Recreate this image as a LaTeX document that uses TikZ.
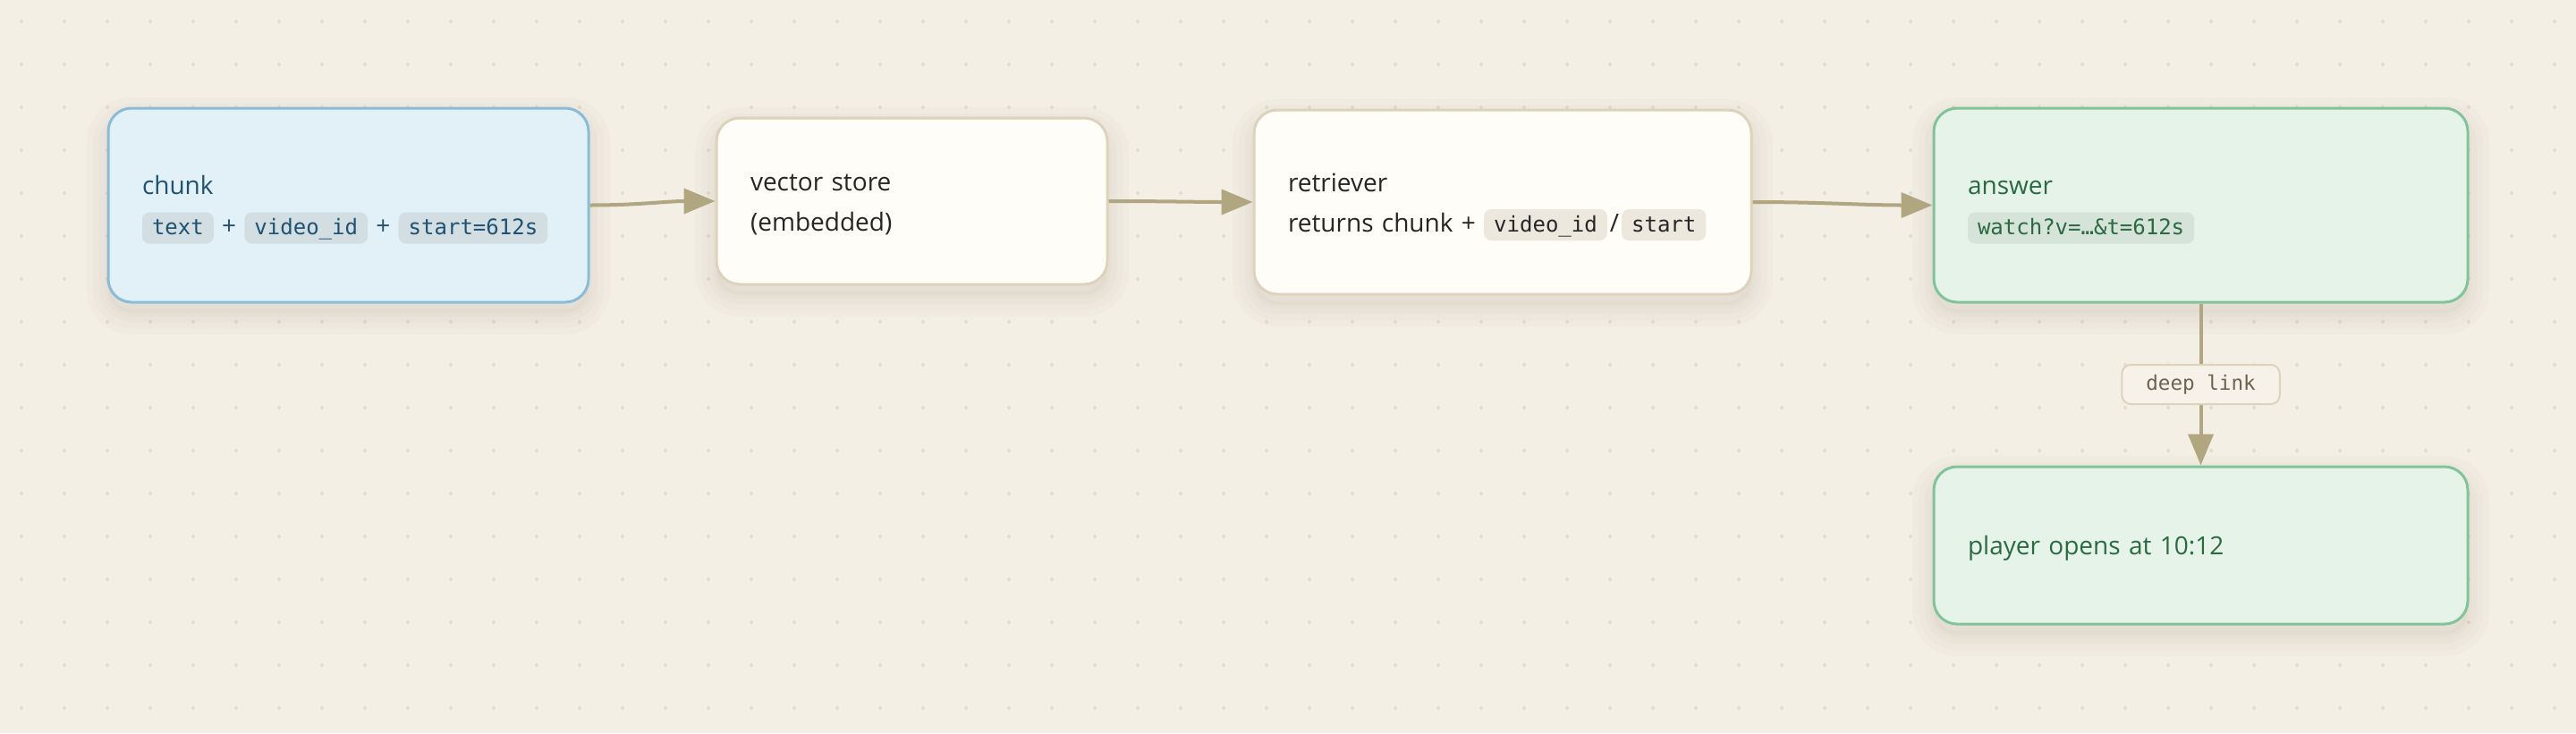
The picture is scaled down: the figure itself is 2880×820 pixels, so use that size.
\documentclass[tikz,border=0pt]{standalone}
\usepackage{fontspec}
\setmainfont{Open Sans}
\newfontfamily\codefont{DejaVu Sans Mono}
\usetikzlibrary{arrows.meta}

\definecolor{bgpaper}{HTML}{F3EFE5}
\definecolor{bgdot}{HTML}{E2DDD1}
\definecolor{shade}{HTML}{5A4A2A}
\definecolor{chunkfill}{HTML}{E2F0F7}
\definecolor{chunkline}{HTML}{8ABCD8}
\definecolor{chunktext}{HTML}{1F5272}
\definecolor{chunkchip}{HTML}{D2DEE2}
\definecolor{plainfill}{HTML}{FFFDF7}
\definecolor{plainline}{HTML}{DDD3BD}
\definecolor{plaintext}{HTML}{262626}
\definecolor{plainchip}{HTML}{ECE8DD}
\definecolor{ansfill}{HTML}{E6F3E9}
\definecolor{ansline}{HTML}{82C49A}
\definecolor{anstext}{HTML}{2B6A41}
\definecolor{anschip}{HTML}{D5E3D8}
\definecolor{flowline}{HTML}{B0A680}
\definecolor{lbltext}{HTML}{6B6350}
\definecolor{lblfill}{HTML}{F6F2E9}

\newcommand{\boxstrut}{\vrule height 16.5pt depth 6pt width 0pt}
\newcommand{\code}[2][plainchip]{\tikz[baseline=(c.base)]\node[chip,fill=#1](c){#2};}

\tikzset{
  halo/.style={preaction={draw=shade, fill=none, draw opacity=0.018, line width=#1,
    transform canvas={yshift=-6pt}}},
  softshadow/.style={preaction={fill=shade, fill opacity=0.03, draw=none,
    transform canvas={yshift=-6pt}}, halo=24pt, halo=17pt, halo=10pt, halo=4pt},
  chip/.style={rounded corners=4pt, inner xsep=5.5pt, inner ysep=0pt,
    minimum height=0pt, minimum width=0pt, line width=0pt,
    text height=12.5pt, text depth=5pt, font=\codefont\fontsize{12}{14}\selectfont},
  box/.style={draw, line width=1.5pt, rounded corners=13pt, align=left, inner xsep=19pt,
    font=\fontsize{14}{22.5}\selectfont, softshadow},
  chunkbox/.style={box, fill=chunkfill, draw=chunkline, text=chunktext},
  plainbox/.style={box, fill=plainfill, draw=plainline, text=plaintext},
  ansbox/.style={box, fill=ansfill, draw=ansline, text=anstext},
  flow/.style={draw=flowline, line width=2pt, -{Triangle[length=17.5pt,width=14pt]}},
  linklbl/.style={draw=plainline, fill=lblfill, line width=1pt, rounded corners=5pt,
    inner xsep=13.5pt, minimum height=22pt, text=lbltext,
    font=\codefont\fontsize{11.3}{14}\selectfont}
}

\begin{document}
\begin{tikzpicture}[x=0.5pt, y=-0.5pt]
  \useasboundingbox (0,0) rectangle (2880,820);
  \fill[bgpaper] (0,0) rectangle (2880,820);
  \foreach \i in {0,...,59}
    \foreach \j in {0,...,16}
      \fill[bgdot] (24+48*\i, 24+48*\j) circle (1pt);

  % pipeline
  \node[chunkbox, text width=230.5pt, minimum height=108.5pt] (chunk) at (389.5,229.5)
    {\boxstrut chunk\\\boxstrut\code[chunkchip]{text} + \code[chunkchip]{video\_id} + \code[chunkchip]{start=612s}};
  \node[plainbox, text width=180.5pt, minimum height=93pt] (store) at (1019.5,225)
    {\boxstrut vector store\\\boxstrut(embedded)};
  \node[plainbox, text width=240pt, minimum height=103pt] (retriever) at (1680,226)
    {\boxstrut retriever\\\boxstrut returns chunk + \code{video\_id}\kern1.5pt/\kern1.5pt\code{start}};
  \node[ansbox, text width=260.5pt, minimum height=108.5pt] (answer) at (2460.5,229.5)
    {\boxstrut answer\\\boxstrut\code[anschip]{watch?v=…\&t=612s}};
  \node[ansbox, text width=260.5pt, minimum height=88pt] (player) at (2460.5,610)
    {\boxstrut player opens at 10:12};

  \draw[flow] (chunk.east) to[out=0, in=180] (store.west);
  \draw[flow] (store.east) to[out=0, in=180] (retriever.west);
  \draw[flow] (retriever.east) to[out=0, in=180] (answer.west);
  \draw[flow] (answer.south) -- node[linklbl] (deep) {deep link} (player.north);
\end{tikzpicture}
\end{document}
